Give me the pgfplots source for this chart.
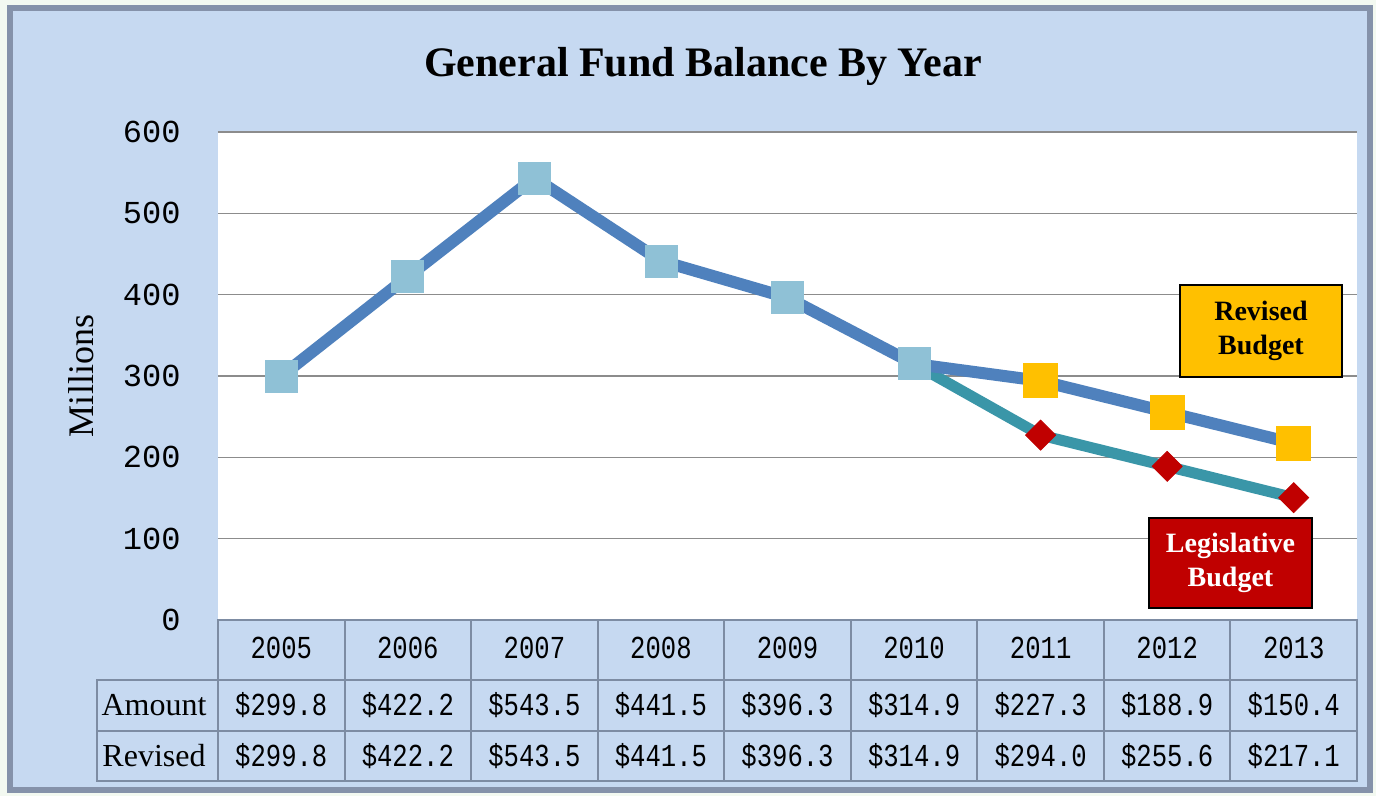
\documentclass[border=0pt]{standalone}
\usepackage{fontspec}
\setmainfont{Liberation Serif}
\newfontfamily\tickfont{Liberation Mono}
\newfontfamily\tabfont[FakeStretch=0.8]{Liberation Mono}
\usepackage{pgfplots}
\pgfplotsset{compat=1.18}

\definecolor{pagebg}{HTML}{F3F9F1}
\definecolor{panel}{HTML}{C6D9F1}
\definecolor{frame}{HTML}{8592AA}
\definecolor{gridgray}{HTML}{8C8C8C}
\definecolor{lineblue}{HTML}{4F81BD}
\definecolor{lineteal}{HTML}{3A96A8}
\definecolor{sqblue}{HTML}{8FC1D6}
\definecolor{revyellow}{HTML}{FFC000}
\definecolor{legred}{HTML}{C00000}
\definecolor{tabline}{HTML}{7D8CA3}

\begin{document}
\begin{tikzpicture}[x=1pt,y=1pt]
% page and panel
\fill[pagebg] (-109,-88) rectangle (579,310);
\fill[panel] (-104,-85) rectangle (576,306);
\draw[frame, line width=3pt] (-104,-85) rectangle (576,306);

\begin{axis}[
    at={(0,0)}, anchor=south west,
    scale only axis,
    width=569.5pt, height=244pt,
    xmin=-0.5, xmax=8.5,
    ymin=0, ymax=600,
    xtick=\empty,
    ytick={0,100,...,600},
    ymajorgrids,
    grid style={gridgray, line width=0.8pt},
    axis line style={draw=none},
    major tick length=0pt,
    axis background/.style={fill=white},
    /pgf/number format/assume math mode=true,
    yticklabel style={font=\fontsize{16}{16}\tickfont, anchor=east, inner sep=0pt, xshift=-18.5pt},
    ylabel={Millions},
    ylabel style={at={(axis description cs:-0.1203,0.5)}, anchor=center, font=\fontsize{18}{18}\selectfont},
    title={General Fund Balance By Year},
    title style={at={(axis description cs:0.4258,1)}, anchor=center, yshift=27pt, font=\fontsize{21}{21}\bfseries},
    clip=false,
]
% legislative (amount) line
\addplot[lineteal, line width=5.5pt, line join=round]
    coordinates {(5,314.9) (6,227.3) (7,188.9) (8,150.4)};
% revised line
\addplot[lineblue, line width=6pt, line join=round]
    coordinates {(0,299.8) (1,422.2) (2,543.5) (3,441.5) (4,396.3) (5,314.9) (6,294.0) (7,255.6) (8,217.1)};
\addplot[only marks, color=sqblue, mark=square*, mark size=8pt, mark options={draw=sqblue, fill=sqblue}]
    coordinates {(0,299.8) (1,422.2) (2,543.5) (3,441.5) (4,396.3) (5,314.9)};
\addplot[only marks, color=revyellow, mark=square*, mark size=8.5pt, mark options={draw=revyellow, fill=revyellow}]
    coordinates {(6,294.0) (7,255.6) (8,217.1)};
\addplot[only marks, color=legred, mark=square*, mark size=5.3pt, mark options={draw=legred, fill=legred, rotate=45}]
    coordinates {(6,227.3) (7,188.9) (8,150.4)};
\end{axis}

% data table under the axis
\draw[tabline, line width=1pt] (0,0) rectangle (569.5,-80.5);
\draw[tabline, line width=1pt] (-60.5,-30) rectangle (569.5,-80.5);
\draw[tabline, line width=1pt] (-60.5,-55.5) -- (569.5,-55.5);
\foreach \k in {1,...,8} \draw[tabline, line width=1pt] (\k*63.28,0) -- (\k*63.28,-80.5);
\foreach \yr [count=\i from 0] in {2005,...,2013}
  \node[font=\fontsize{16}{16}\tabfont] at (\i*63.28+31.64,-14) {\yr};
\foreach \v [count=\i from 0] in {299.8,422.2,543.5,441.5,396.3,314.9,227.3,188.9,150.4}
  \node[font=\fontsize{16}{16}\tabfont] at (\i*63.28+31.64,-42.75) {\$\v};
\foreach \v [count=\i from 0] in {299.8,422.2,543.5,441.5,396.3,314.9,294.0,255.6,217.1}
  \node[font=\fontsize{16}{16}\tabfont] at (\i*63.28+31.64,-68) {\$\v};
\node[font=\fontsize{16}{16}\selectfont] at (-32,-42.75) {Amount};
\node[font=\fontsize{16}{16}\selectfont] at (-32,-68) {Revised};

% callout boxes
\node[draw=black, line width=1pt, fill=revyellow, minimum width=81pt, minimum height=46pt,
      align=center, font=\fontsize{14}{17}\bfseries] at (521.5,144.5) {Revised\\Budget};
\node[draw=black, line width=1pt, fill=legred, text=white, minimum width=81.5pt, minimum height=45pt,
      align=center, font=\fontsize{14}{17}\bfseries] at (506.25,28.5) {Legislative\\Budget};
\end{tikzpicture}
\end{document}
